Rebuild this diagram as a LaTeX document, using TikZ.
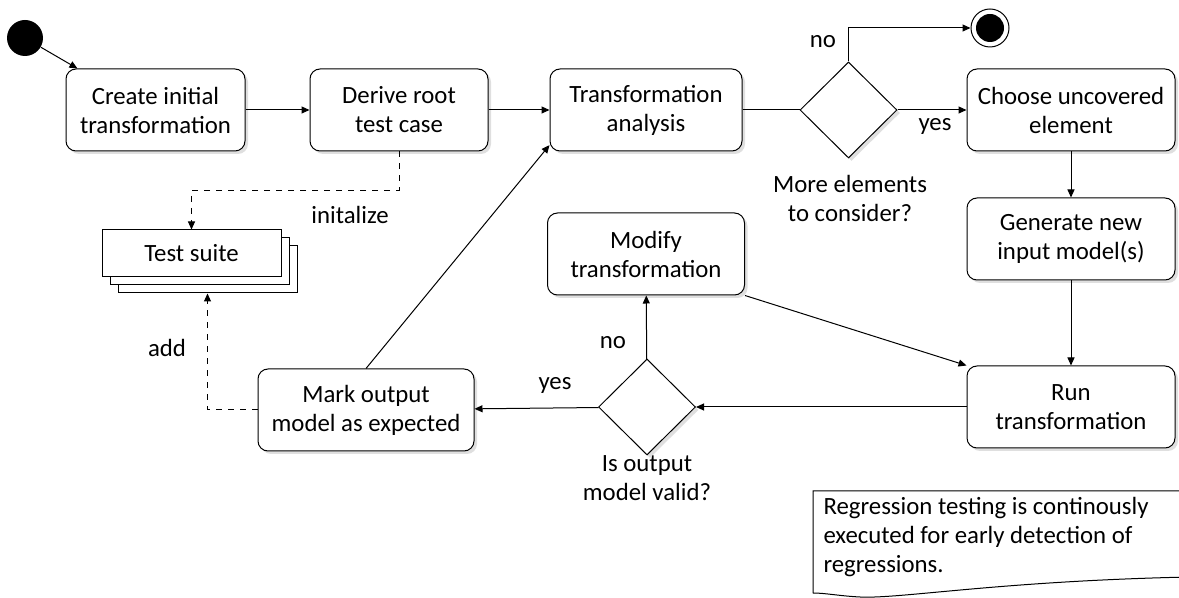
\documentclass[tikz,border=0pt]{standalone}
\usepackage{fontspec}
\setmainfont{Carlito}
\usetikzlibrary{arrows.meta,shapes.geometric,shadows,calc}

\begin{document}
\begin{tikzpicture}[x=0.5pt,y=-0.5pt,>={Triangle[length=4pt,width=3.5pt]},
	line width=0.5pt,
	font=\fontsize{12.4}{14.5}\selectfont,
	act/.style={draw,fill=white,rounded corners=5pt,align=center,
		minimum height=41pt,inner sep=2pt,
		drop shadow={opacity=0.25,shadow xshift=1.5pt,shadow yshift=-1.5pt}},
	decide/.style={draw,fill=white,diamond,minimum width=48.5pt,minimum height=48pt,
		inner sep=0pt,
		drop shadow={opacity=0.25,shadow xshift=1.5pt,shadow yshift=-1.5pt}},
	lbl/.style={align=center,inner sep=1pt},
	flow/.style={->},
	dataflow/.style={->,dashed}]
	
	%----------------------
	% Khung
	%----------------------
	\useasboundingbox (0,0) rectangle (1179,598);
	
	% Nút đầu, nút cuối
	\node[circle,fill=black,minimum size=18pt,inner sep=0pt] (start) at (25,38) {};
	\node[circle,draw,fill=white,minimum size=19pt,inner sep=0pt] (end) at (990,28) {};
	\fill (end) circle (7pt);
	
	%----------------------
	% Hàng trên
	%----------------------
	\node[act,minimum width=89.5pt] (create) at (155.5,110) {Create initial\\transformation};
	\node[act,minimum width=89pt] (derive) at (399,110) {Derive root\\test case};
	\node[act,minimum width=96pt] (transana) at (646,110) {Transformation\\analysis};
	\node[decide] (more) at (848.5,110) {};
	\node[act,minimum width=104pt] (choose) at (1071,110) {Choose uncovered\\element};
	
	% Cột phải
	\node[act,minimum width=104pt] (generate) at (1071,239) {Generate new\\input model(s)};
	\node[act,minimum width=104pt] (run) at (1071,407) {Run\\transformation};
	
	% Giữa và dưới
	\node[act,minimum width=98.5pt] (modify) at (646,254) {Modify\\transformation};
	\node[decide] (valid) at (647,407) {};
	\node[act,minimum width=108pt] (mark) at (366,410) {Mark output\\model as expected};
	
	% Test suite
	\node[draw,fill=white,minimum width=89.5pt,minimum height=23.5pt,
		double copy shadow={shadow xshift=4pt,shadow yshift=-4pt}] (suite) at (191.5,253.5) {Test suite};
	\coordinate (suiteback) at ($(suite.south)+(16,16)$);
	
	%----------------------
	% Mũi tên
	%----------------------
	\draw[flow] (start) -- (create.152);
	\draw[flow] (create) -- (derive);
	\draw[flow] (derive) -- (transana);
	\draw (transana) -- (more);
	\draw[flow] (more.north) |- (end);
	\draw[flow] (more) -- (choose);
	\draw[flow] (choose) -- (generate);
	\draw[flow] (generate) -- (run);
	\draw[flow] (modify.south east) -- (run.north west);
	\draw[flow] (run) -- (valid);
	\draw[flow] (valid) -- (modify);
	\draw[flow] (valid) -- (mark);
	\draw[flow] (mark.north) -- (transana.200);
	\draw[dataflow] (derive.south) -- ++(0,39) -| (suite.north);
	\draw[dataflow] (mark.west) -| (suiteback);
	
	% Nhãn
	\node[lbl] (nolbl) at (823,42) {no};
	\node[lbl] (yeslbl) at (935,126) {yes};
	\node[lbl] (morelbl) at (850,198) {More elements\\to consider?};
	\node[lbl] (initlbl) at (350,215) {initalize};
	\node[lbl] (addlbl) at (167,348) {add};
	\node[lbl] (yeslbl2) at (555,385) {yes};
	\node[lbl] (nolbl2) at (613,343) {no};
	\node[lbl] (validlbl) at (647,478) {Is output\\model valid?};
	
	%----------------------
	% Ghi chú
	%----------------------
	\draw[fill=white] (813,491) -- (1190,491) -- (1190,577)
		.. controls (1000,581) and (900,599) .. (860,597)
		.. controls (840,596) and (825,593) .. (813,593) -- cycle;
	\node[align=left,anchor=north west,inner sep=0pt] (note) at (823,497)
		{Regression testing is continously\\executed for early detection of\\regressions.};
	
\end{tikzpicture}
\end{document}
